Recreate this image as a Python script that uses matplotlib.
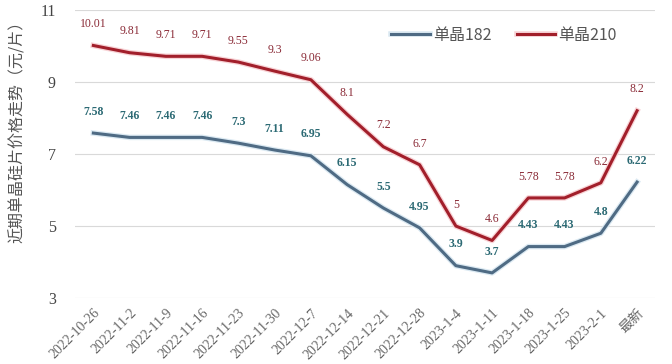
import matplotlib.pyplot as plt
import matplotlib.patheffects as pe

dates = ["2022-10-26", "2022-11-2", "2022-11-9", "2022-11-16", "2022-11-23",
         "2022-11-30", "2022-12-7", "2022-12-14", "2022-12-21", "2022-12-28",
         "2023-1-4", "2023-1-11", "2023-1-18", "2023-1-25", "2023-2-1", "最新"]
p182 = [7.58, 7.46, 7.46, 7.46, 7.3, 7.11, 6.95, 6.15, 5.5, 4.95, 3.9, 3.7, 4.43, 4.43, 4.8, 6.22]
p210 = [10.01, 9.81, 9.71, 9.71, 9.55, 9.3, 9.06, 8.1, 7.2, 6.7, 5.0, 4.6, 5.78, 5.78, 6.2, 8.2]
lab210 = ["10.01", "9.81", "9.71", "9.71", "9.55", "9.3", "9.06", "8.1", "7.2", "6.7",
          "5", "4.6", "5.78", "5.78", "6.2", "8.2"]

cjk = ['Noto Sans CJK SC', 'DejaVu Sans']
serif = ['Liberation Serif', 'Noto Sans CJK SC']

fig = plt.figure(figsize=(6.72, 3.64), dpi=100)
ax = fig.add_axes([0.112, 0.181, 0.863, 0.792])

x = list(range(len(dates)))
c182 = "#4f6b84"
c210 = "#a21f2b"
ax.plot(x, p182, color=c182, lw=2.2, label="单晶182", zorder=3,
        path_effects=[pe.Stroke(linewidth=4, foreground="#dbe9f2"), pe.Normal()])
ax.plot(x, p210, color=c210, lw=2.2, label="单晶210", zorder=3,
        path_effects=[pe.Stroke(linewidth=4, foreground="#f8d3d6"), pe.Normal()])

for i, v in enumerate(p182):
    ax.annotate(f"{v:g}", (i, v), xytext=(0, 11), textcoords="offset points",
                ha="center", va="bottom", fontsize=8.5, color="#2c6a74",
                fontweight="bold", family=serif)
for i, v in enumerate(p210):
    ax.annotate(lab210[i], (i, v), xytext=(0, 11), textcoords="offset points",
                ha="center", va="bottom", fontsize=8.5, color="#8a2a36",
                family=serif)

ax.set_ylim(3, 11)
ax.set_xlim(-0.5, len(dates) - 0.5)
ax.set_yticks([3, 5, 7, 9, 11])
ax.set_yticklabels(["3", "5", "7", "9", "11"], family=serif, fontsize=11.5, color="#444444")
ax.set_xticks(x)
ax.set_xticklabels(dates, rotation=45, ha="right", rotation_mode="anchor",
                   family=serif, fontsize=10, color="#666666")
ax.grid(axis="y", color="#d9d9d9", lw=0.8)
ax.set_axisbelow(True)
for s in ax.spines.values():
    s.set_visible(False)
ax.tick_params(axis="y", length=0, pad=14)
ax.tick_params(axis="x", length=0, pad=6)
ax.set_ylabel("近期单晶硅片价格走势（元/片）", family=cjk, fontsize=11.5, color="#555555")
ax.yaxis.set_label_coords(-0.085, 0.59)

leg = ax.legend(loc="upper left", bbox_to_anchor=(0.52, 0.99), ncol=2, frameon=False,
                prop={"family": cjk, "size": 11.5}, handlelength=2.4, columnspacing=1.6,
                handletextpad=0.2, labelcolor="#555555")

fig.savefig("out.png", dpi=100)
